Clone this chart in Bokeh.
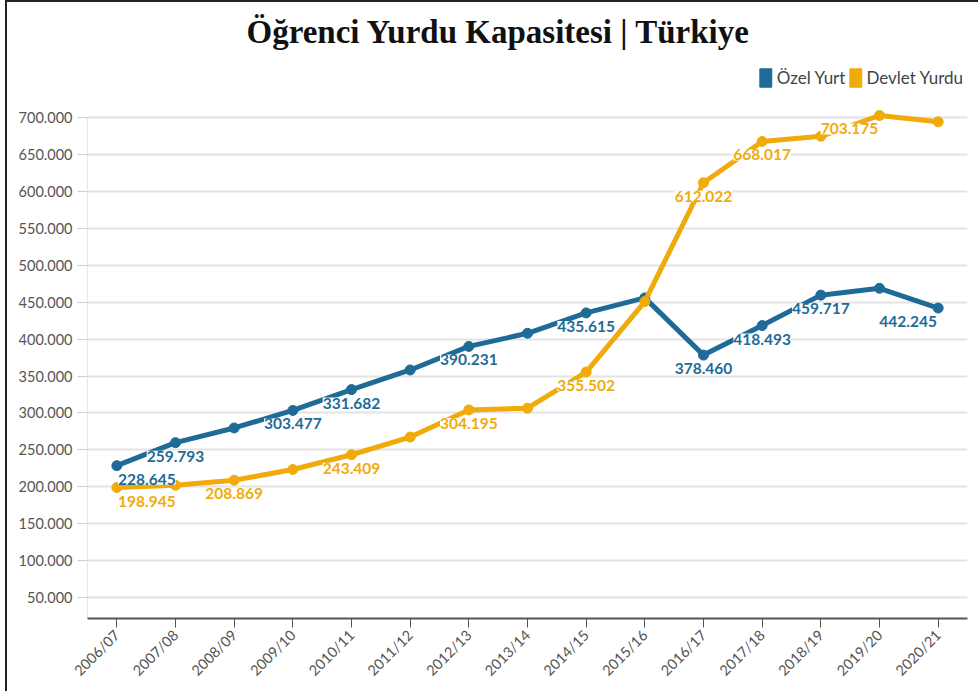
import math
from bokeh.plotting import figure
from bokeh.models import (ColumnDataSource, Range1d, FixedTicker, Legend, LegendItem,
                          LabelSet, Title)
from bokeh.core.properties import value
from bokeh.embed import file_html
from bokeh.resources import INLINE

# ---------------- data ----------------
years = ["2006/07", "2007/08", "2008/09", "2009/10", "2010/11", "2011/12", "2012/13",
         "2013/14", "2014/15", "2015/16", "2016/17", "2017/18", "2018/19", "2019/20", "2020/21"]
ozel = [228645, 259793, 279700, 303477, 331682, 358300, 390231, 408000, 435615,
        456000, 378460, 418493, 459717, 469000, 442245]
devlet = [198945, 202000, 208869, 223400, 243409, 267400, 304195, 306500, 355502,
          451000, 612022, 668017, 675000, 703175, 694600]
ozel_labeled = [0, 1, 3, 4, 6, 8, 10, 11, 12, 14]
devlet_labeled = [0, 2, 4, 6, 8, 10, 11, 13]
y_ticks = [50000, 100000, 150000, 200000, 250000, 300000, 350000, 400000, 450000,
           500000, 550000, 600000, 650000, 700000]

title_text = "Öğrenci Yurdu Kapasitesi | Türkiye"
ozel_name = "Özel Yurt"
devlet_name = "Devlet Yurdu"

BLUE = "#1f6b97"
GOLD = "#f0ab0a"

Y_MIN = 21500
Y_MAX = 775000


def tr(v):
    return f"{v:,}".replace(",", ".")


# label horizontal shifts (style): edge labels pushed inward
def label_dx(i):
    if i == 0:
        return 30
    if i >= 13:
        return -30
    return 0


p = figure(width=973, height=691, output_backend="svg", toolbar_location=None,
           x_range=Range1d(-0.5, len(years) - 0.5), y_range=Range1d(Y_MIN, Y_MAX),
           min_border_left=80, min_border_right=13, min_border_bottom=75, min_border_top=60)
p.outline_line_color = None
p.background_fill_color = "white"
p.border_fill_color = "white"

p.title = Title(text=title_text, align="left", text_font="Liberation Serif",
                text_font_size="33px", text_font_style="bold", text_color="#111111",
                offset=159, standoff=22, vertical_align="top")

x = list(range(len(years)))

src_o = ColumnDataSource(dict(x=x, y=ozel))
src_d = ColumnDataSource(dict(x=x, y=devlet))

# light y-axis line from bottom up to the top tick
p.segment(x0=[-0.5], y0=[Y_MIN], x1=[-0.5], y1=[max(y_ticks)], line_color="#cccccc",
          line_width=1)

p.line("x", "y", source=src_o, line_color=BLUE, line_width=5)
p.scatter("x", "y", source=src_o, size=10, fill_color=BLUE, line_color=BLUE)
p.line("x", "y", source=src_d, line_color=GOLD, line_width=5)
p.scatter("x", "y", source=src_d, size=10, fill_color=GOLD, line_color=GOLD)


def label_source(vals, idxs):
    return ColumnDataSource(dict(x=[i for i in idxs], y=[vals[i] for i in idxs],
                                 t=[tr(vals[i]) for i in idxs],
                                 dx=[label_dx(i) for i in idxs]))


for vals, idxs, col in ((ozel, ozel_labeled, BLUE), (devlet, devlet_labeled, GOLD)):
    ls = LabelSet(x="x", y="y", text="t", source=label_source(vals, idxs),
                  x_offset="dx", y_offset=-8, text_align="center", text_baseline="top",
                  text_font=value("Lato"), text_font_size=value("15.5px"),
                  text_font_style="bold",
                  text_color=col, background_fill_color="white", background_fill_alpha=1.0)
    p.add_layout(ls)

# legend proxies (a single NaN row: nothing drawn in the plot, swatch drawn in legend)
nan = float("nan")
proxy = ColumnDataSource(dict(x=[nan], top=[nan]))
r_o = p.vbar(x="x", top="top", width=0.5, source=proxy, fill_color=BLUE, line_color=BLUE)
r_d = p.vbar(x="x", top="top", width=0.5, source=proxy, fill_color=GOLD, line_color=GOLD)
legend = Legend(items=[LegendItem(label=ozel_name, renderers=[r_o]),
                       LegendItem(label=devlet_name, renderers=[r_d])],
                orientation="horizontal", location="top_right",
                border_line_alpha=0, background_fill_alpha=0,
                label_text_font="Lato", label_text_font_size="17px", label_text_color="#444444",
                glyph_width=15, glyph_height=23, label_height=23, spacing=2, padding=0,
                margin=4, label_standoff=4)
p.add_layout(legend)

# axes
p.xaxis.ticker = FixedTicker(ticks=x)
p.xaxis.major_label_overrides = {i: y for i, y in enumerate(years)}
p.xaxis.major_label_orientation = math.pi / 4
p.xaxis.major_label_text_font = "Lato"
p.xaxis.major_label_text_font_size = "14.5px"
p.xaxis.major_label_text_color = "#555555"
p.xaxis.axis_line_color = "#555555"
p.xaxis.axis_line_width = 2
p.xaxis.major_tick_line_color = "#555555"
p.xaxis.major_tick_out = 9
p.xaxis.major_tick_in = 0
p.xaxis.minor_tick_line_color = None

p.yaxis.ticker = FixedTicker(ticks=y_ticks)
p.yaxis.major_label_overrides = {v: tr(v) for v in y_ticks}
p.yaxis.major_label_text_font = "Lato"
p.yaxis.major_label_text_font_size = "14.5px"
p.yaxis.major_label_text_color = "#555555"
p.yaxis.axis_line_color = None
p.yaxis.major_tick_line_color = "#cccccc"
p.yaxis.major_tick_out = 10
p.yaxis.major_tick_in = 0
p.yaxis.minor_tick_line_color = None

p.xgrid.grid_line_color = None
p.ygrid.grid_line_color = "#e3e3e3"
p.ygrid.grid_line_width = 2

p.styles = {"border-left": "2px solid #222222", "border-top": "2px solid #222222",
            "margin-left": "5px"}

open("out.html", "w").write(file_html(p, INLINE))
